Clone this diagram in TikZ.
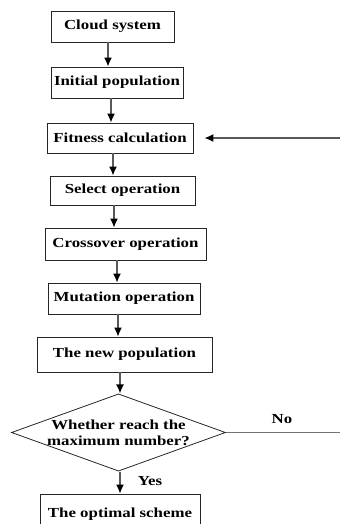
\documentclass[tikz,border=0pt]{standalone}
\usepackage{fontspec}
\setmainfont[FakeStretch=1.22]{Liberation Serif}
\usetikzlibrary{arrows.meta,shapes.geometric}
\begin{document}
\begin{tikzpicture}[x=1pt,y=-1pt,
  box/.style={draw=black!85,line width=0.8pt,inner sep=0pt,font=\fontsize{13.8}{16}\selectfont\bfseries},
  arr/.style={draw=black!65,line width=1.5pt,-{Latex[length=9pt,width=8pt,black]}},
  ln/.style={draw=black!55,line width=1.3pt},
  lbl/.style={inner sep=0pt,font=\fontsize{13.8}{16}\selectfont\bfseries}]
\clip (0,0) rectangle (340,524);
\useasboundingbox (0,0) rectangle (340,524);
\node[box,minimum width=123pt,minimum height=31pt] (cloud) at (112.5,26.5) {Cloud system};
\node[box,minimum width=132pt,minimum height=31pt] (init) at (117,82.5) {Initial population};
\node[box,minimum width=146pt,minimum height=30pt] (fit) at (120,138) {Fitness calculation};
\node[box,minimum width=145pt,minimum height=29pt] (sel) at (122.5,190.5) {Select operation\hspace{13pt}};
\node[box,minimum width=161pt,minimum height=32pt] (cross) at (125.5,244) {Crossover operation};
\node[box,minimum width=152pt,minimum height=31pt] (mut) at (124,298.5) {Mutation operation};
\node[box,minimum width=175pt,minimum height=35pt] (newp) at (124.5,354.5) {The new population\hspace{9pt}};
\node[box,shape=diamond,aspect=2.77,minimum width=213pt,minimum height=77pt,align=center] (dia) at (118.5,432.5) {Whether reach the\\maximum number?};
\node[box,minimum width=160pt,minimum height=40pt] (opt) at (120,514) {The optimal scheme};
\coordinate (fr) at (340,138);
\coordinate (nr) at (340,432.5);
\draw[arr] (cloud.south -| 108,0) -- (init.north -| 108,0);
\draw[arr] (init.south -| 111,0) -- (fit.north -| 111,0);
\draw[arr] (fit.south -| 113,0) -- (sel.north -| 113,0);
\draw[arr] (sel.south -| 114,0) -- (cross.north -| 114,0);
\draw[arr] (cross.south -| 117,0) -- (mut.north -| 117,0);
\draw[arr] (mut.south -| 118,0) -- (newp.north -| 118,0);
\draw[arr] (newp.south -| 120,0) -- (dia.north -| 120,0);
\draw[arr] (dia.south -| 120,0) -- (opt.north -| 120,0);
\draw[arr,shorten >=11pt] (fr) -- (fit.east);
\draw[ln] (dia.east) -- (nr);
\node[lbl] (no) at (282,419) {No};
\node[lbl] (yes) at (150,481) {Yes};
\end{tikzpicture}
\end{document}
